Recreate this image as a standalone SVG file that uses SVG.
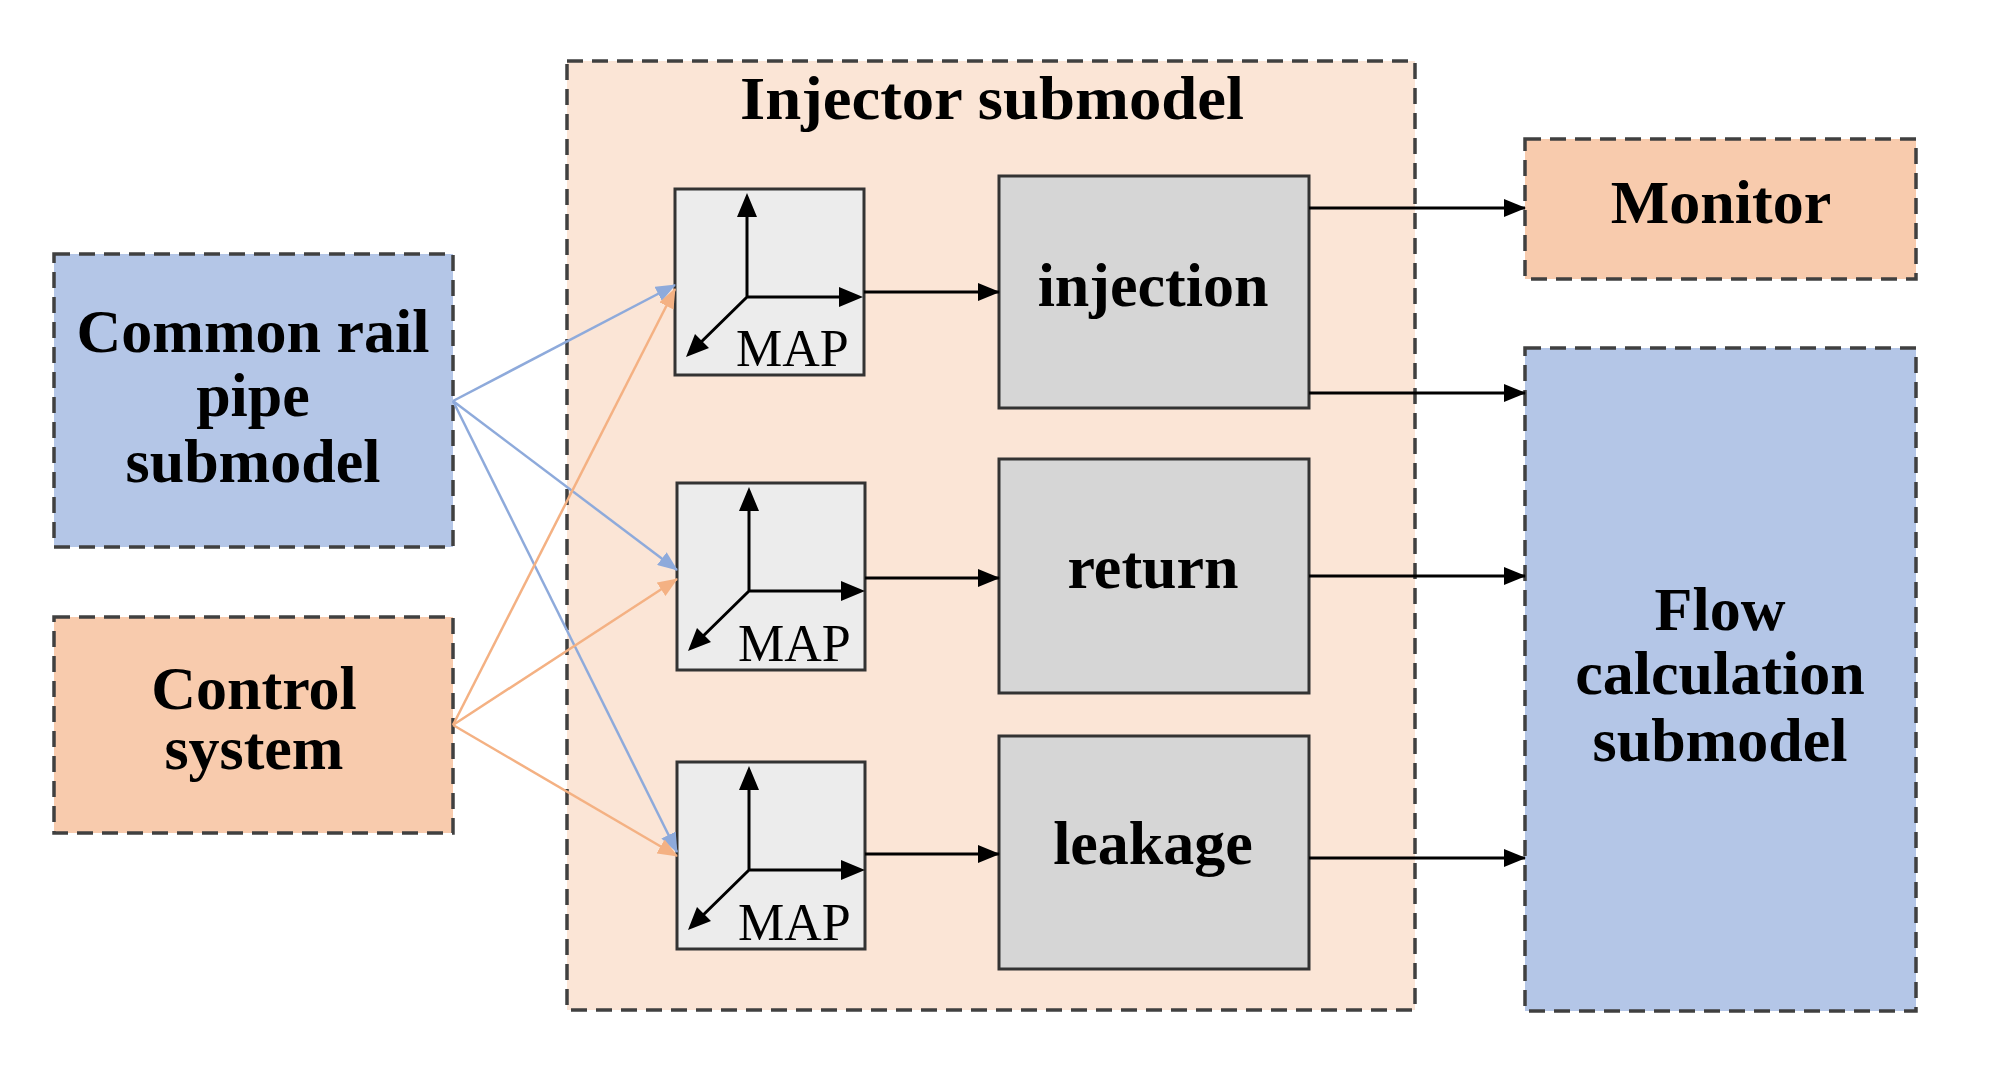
<svg xmlns="http://www.w3.org/2000/svg" width="1991" height="1067" viewBox="0 0 1991 1067">
<defs>
<style>
.dash{stroke:#404040;stroke-width:3.5;stroke-dasharray:16 9}
.t{font-family:"Liberation Serif",serif;font-weight:bold;font-size:62px;text-anchor:middle;fill:#000}
.map{font-family:"Liberation Serif",serif;font-size:52px;fill:#000}
.blk{stroke:#000;stroke-width:3;fill:none}
.bl{stroke:#8eaadb;stroke-width:2.5;fill:none}
.or{stroke:#f4b183;stroke-width:2.5;fill:none}
</style>
<marker id="ab" markerWidth="20" markerHeight="16" refX="19" refY="8" orient="auto" markerUnits="userSpaceOnUse"><path d="M0,0 L20,8 L0,16 z" fill="#8eaadb"/></marker>
<marker id="ao" markerWidth="20" markerHeight="16" refX="19" refY="8" orient="auto" markerUnits="userSpaceOnUse"><path d="M0,0 L20,8 L0,16 z" fill="#f4b183"/></marker>
<marker id="aa" markerWidth="22" markerHeight="18" refX="21" refY="9" orient="auto" markerUnits="userSpaceOnUse"><path d="M0,0 L22,9 L0,18 z" fill="#000"/></marker>
<g id="axes">
<path d="M72,108 V14 M72,108 H176 M72,108 L19,160" stroke="#000" stroke-width="3" fill="none"/>
<path d="M72,4 L62,28 L82,28 z M188,108 L164,98 L164,118 z M11,168 L20,145 L34,159 z" fill="#000"/>
</g>
</defs>
<rect width="1991" height="1067" fill="#fff"/>
<g id="injector">
<rect x="567" y="61" width="848" height="949" fill="#fbe5d6" class="dash"/>
<text x="992" y="119" class="t" textLength="504" lengthAdjust="spacingAndGlyphs">Injector submodel</text>
</g>
<g id="common-rail">
<rect x="54" y="254" width="399" height="293" fill="#b4c6e7" class="dash"/>
<text x="253" y="352" class="t">Common rail</text>
<text x="253" y="416" class="t">pipe</text>
<text x="253" y="482" class="t">submodel</text>
</g>
<g id="control">
<rect x="54" y="617" width="399" height="216" fill="#f8cbad" class="dash"/>
<text x="254" y="709" class="t">Control</text>
<text x="254" y="769" class="t">system</text>
</g>
<g id="monitor">
<rect x="1525" y="139" width="391" height="140" fill="#f8cbad" class="dash"/>
<text x="1721" y="223" class="t">Monitor</text>
</g>
<g id="flow">
<rect x="1525" y="348" width="391" height="663" fill="#b4c6e7" class="dash"/>
<text x="1720" y="630" class="t">Flow</text>
<text x="1720" y="694" class="t">calculation</text>
<text x="1720" y="761" class="t">submodel</text>
</g>
<g id="map1">
<rect x="675" y="189" width="189" height="186" fill="#ececec" stroke="#333" stroke-width="3"/>
<use href="#axes" x="675" y="189"/>
<text x="736" y="366" class="map">MAP</text>
</g>
<g id="map2">
<rect x="677" y="483" width="188" height="187" fill="#ececec" stroke="#333" stroke-width="3"/>
<use href="#axes" x="677" y="483"/>
<text x="738" y="661" class="map">MAP</text>
</g>
<g id="map3">
<rect x="677" y="762" width="188" height="187" fill="#ececec" stroke="#333" stroke-width="3"/>
<use href="#axes" x="677" y="762"/>
<text x="738" y="940" class="map">MAP</text>
</g>
<g id="injection">
<rect x="999" y="176" width="310" height="232" fill="#d6d6d6" stroke="#333" stroke-width="3"/>
<text x="1153" y="306" class="t">injection</text>
</g>
<g id="return">
<rect x="999" y="459" width="310" height="234" fill="#d6d6d6" stroke="#333" stroke-width="3"/>
<text x="1153" y="588" class="t">return</text>
</g>
<g id="leakage">
<rect x="999" y="736" width="310" height="233" fill="#d6d6d6" stroke="#333" stroke-width="3"/>
<text x="1153" y="864" class="t">leakage</text>
</g>
<g id="connectors">
<path class="bl" d="M453,401 L675,285" marker-end="url(#ab)"/>
<path class="bl" d="M453,401 L677,570" marker-end="url(#ab)"/>
<path class="bl" d="M453,401 L677,852" marker-end="url(#ab)"/>
<path class="or" d="M453,725 L675,289" marker-end="url(#ao)"/>
<path class="or" d="M453,725 L677,579" marker-end="url(#ao)"/>
<path class="or" d="M453,725 L677,856" marker-end="url(#ao)"/>
<path class="blk" d="M864,292 H999" marker-end="url(#aa)"/>
<path class="blk" d="M865,578 H999" marker-end="url(#aa)"/>
<path class="blk" d="M865,854 H999" marker-end="url(#aa)"/>
<path class="blk" d="M1309,208 H1525" marker-end="url(#aa)"/>
<path class="blk" d="M1309,393 H1525" marker-end="url(#aa)"/>
<path class="blk" d="M1309,576 H1525" marker-end="url(#aa)"/>
<path class="blk" d="M1309,858 H1525" marker-end="url(#aa)"/>
</g>
</svg>
